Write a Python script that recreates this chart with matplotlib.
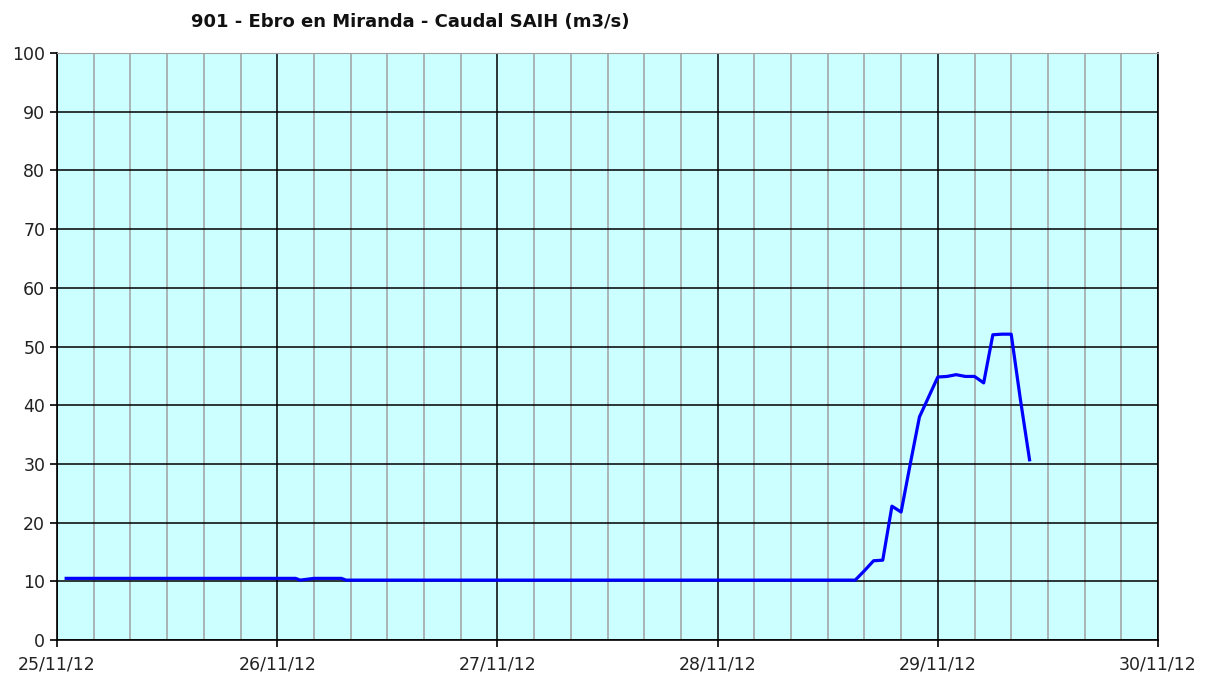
import numpy as np
import pandas as pd
import matplotlib
matplotlib.use("Agg")
import matplotlib.pyplot as plt
import matplotlib.dates as mdates

# Caudal (m3/s), horas contadas desde 25/11/12 00:00
horas = [1, 26, 26.5, 28, 31, 31.5, 87, 88, 89, 90, 91, 92, 93, 94, 95, 96,
         97, 98, 99, 100, 101, 102, 103, 104, 105, 106]
caudal = [10.5, 10.5, 10.2, 10.5, 10.5, 10.2, 10.2, 11.8, 13.5, 13.6, 22.8, 21.8,
          30.0, 38.0, 41.4, 44.8, 44.9, 45.2, 44.9, 44.9, 43.8, 52.0, 52.1, 52.1,
          41.0, 30.7]

inicio = pd.Timestamp("2012-11-25")
fin = pd.Timestamp("2012-11-30")
fechas = [inicio + pd.Timedelta(hours=h) for h in horas]

fig = plt.figure(figsize=(12.17, 6.8), dpi=100)
ax = fig.add_axes([57 / 1217, 40 / 680, (1158 - 57) / 1217, (640 - 53) / 680])
ax.set_facecolor("#CCFFFF")

ax.plot(fechas, caudal, color="#0000FF", lw=2.3, zorder=5)

ax.set_xlim(inicio, fin)
ax.set_ylim(0, 100)
ax.set_yticks(np.arange(0, 101, 10))

ax.xaxis.set_major_locator(mdates.DayLocator())
ax.xaxis.set_major_formatter(mdates.DateFormatter("%d/%m/%y"))
ax.xaxis.set_minor_locator(mdates.HourLocator(byhour=[4, 8, 12, 16, 20]))

# rejilla
ax.grid(which="minor", axis="x", color="#A0A0A0", lw=1.1)
ax.grid(which="major", axis="x", color="black", lw=1.1)
ax.grid(which="major", axis="y", color="black", lw=1.1)
ax.set_axisbelow(True)

for lado in ["left", "bottom", "right"]:
    ax.spines[lado].set_color("black")
    ax.spines[lado].set_linewidth(1.2)
ax.spines["top"].set_color("#A0A0A0")

ax.tick_params(axis="both", which="major", labelsize=12.5, labelcolor="#222222",
               length=5, width=1.2, direction="out")
ax.tick_params(axis="x", which="minor", length=0)
ax.tick_params(axis="x", pad=6)

fig.text(410 / 1217, 1 - 22 / 680, "901 - Ebro en Miranda - Caudal SAIH (m3/s)",
         ha="center", va="center", fontsize=13, fontweight="bold", color="#111111")

fig.savefig("out.png", dpi=100)
